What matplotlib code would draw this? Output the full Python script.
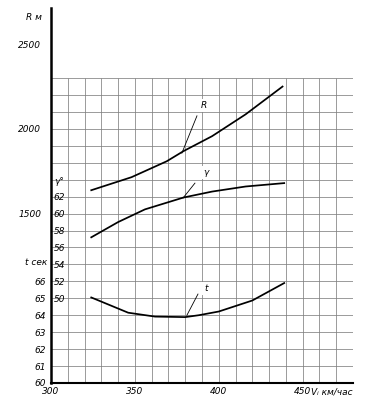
import numpy as np
import matplotlib.pyplot as plt

# speed, km/h
v_R = [324, 348, 369, 379, 396, 416, 438]
R = [1638, 1715, 1809, 1869, 1957, 2086, 2250]          # radius, m

v_g = [324, 340, 356, 379, 396, 416, 439]
gamma = [57.2, 59.0, 60.5, 61.9, 62.6, 63.2, 63.6]       # bank angle, deg

v_t = [324, 346, 362, 380, 388, 400, 420, 439]
t_sec = [65.05, 64.15, 63.92, 63.89, 64.0, 64.22, 64.87, 65.9]  # time, s

x_ticks = [300, 350, 400, 450]
R_ticks = [1500, 2000, 2500]
g_ticks = [50, 52, 54, 56, 58, 60, 62]
t_ticks = [60, 61, 62, 63, 64, 65, 66]

fs = 6.5
nrows = (383 - 8) / 16.94   # grid cells over full axes height

fig = plt.figure(figsize=(3.72, 3.96), dpi=100)
ax = fig.add_axes([51/372, 13/396, 302/372, 375/396])
ax.set_xlim(300, 480)
ax.set_ylim(500, 500 + 100*nrows)

ax_g = ax.twinx()
ax_g.set_ylim(40, 40 + 2*nrows)
ax_t = ax.twinx()
ax_t.set_ylim(60, 60 + nrows)

# grid only inside 300..480 / 500..2300
ax.vlines(np.arange(300, 481, 10), 500, 2300, color='#808080', lw=0.55, zorder=1)
ax.hlines(np.arange(500, 2301, 100), 300, 480, color='#808080', lw=0.55, zorder=1)

ax.plot(v_R, R, c='black', lw=1.25, zorder=3)
ax_g.plot(v_g, gamma, c='black', lw=1.25, zorder=3)
ax_t.plot(v_t, t_sec, c='black', lw=1.25, zorder=3)

for a in (ax, ax_g, ax_t):
    for s in a.spines.values():
        s.set_visible(False)
    a.patch.set_visible(False)
ax.spines['left'].set_visible(True)
ax.spines['left'].set_linewidth(1.8)
ax.spines['bottom'].set_visible(True)
ax.spines['bottom'].set_linewidth(1.5)
ax.spines['bottom'].set_bounds(300, 480)

# ticks
ax.set_xticks(x_ticks)
ax.set_yticks(R_ticks)
ax.tick_params(axis='x', length=0, pad=3, labelsize=fs)
ax.tick_params(axis='y', length=0, pad=7, labelsize=fs)

ax_g.yaxis.tick_left()
ax_g.set_yticks(g_ticks)
ax_g.tick_params(axis='y', length=0, pad=-2, labelsize=fs)
for lab in ax_g.get_yticklabels():
    lab.set_horizontalalignment('left')

ax_t.yaxis.tick_left()
ax_t.set_yticks(t_ticks)
ax_t.tick_params(axis='y', length=0, pad=3.5, labelsize=fs)

for a in (ax, ax_g, ax_t):
    for lab in a.get_xticklabels() + a.get_yticklabels():
        lab.set_fontstyle('italic')

# axis titles
ax.text(294.6, 2655, 'R м', ha='right', va='center', fontsize=fs, style='italic', clip_on=False)
ax_g.text(302, 63.8, 'γ°', ha='left', va='center', fontsize=fs, style='italic', clip_on=False)
ax_t.text(297.6, 67.1, 't сек', ha='right', va='center', fontsize=fs, style='italic', clip_on=False)
ax.text(455, -0.012, 'Vᵢ км/час', transform=ax.get_xaxis_transform(),
        ha='left', va='top', fontsize=fs, style='italic', clip_on=False)

# curve labels with leader lines
box = dict(facecolor='white', edgecolor='none', pad=1.5)
ax.plot([378, 387], [1857, 2077], c='black', lw=0.6, zorder=3)
ax.text(391, 2140, 'R', ha='center', va='center', fontsize=fs, style='italic', bbox=box, zorder=2)
ax_g.plot([378.7, 385.8], [61.84, 63.6], c='black', lw=0.6, zorder=3)
ax_g.text(392.4, 64.9, 'γ', ha='center', va='center', fontsize=fs, style='italic', bbox=box, zorder=2)
ax_t.plot([381, 387.6], [64.0, 65.25], c='black', lw=0.6, zorder=3)
ax_t.text(392.4, 65.6, 't', ha='center', va='center', fontsize=fs, style='italic', bbox=box, zorder=2)

plt.savefig('out.png', dpi=100)
